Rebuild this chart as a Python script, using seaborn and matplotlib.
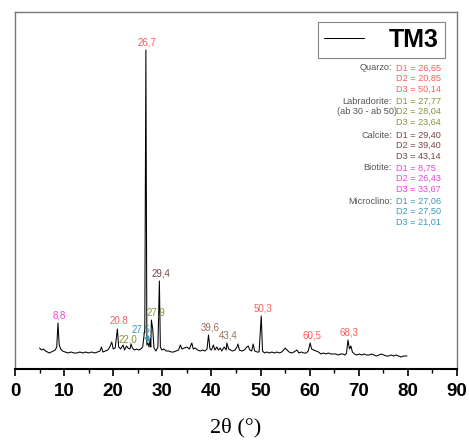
import numpy as np
import pandas as pd
import matplotlib
matplotlib.use("Agg")
import matplotlib.pyplot as plt
import matplotlib.ticker as mticker
import seaborn as sns

# ── Data ──────────────────────────────────────────────────────────────────────
two_theta = [
    5.0, 5.4, 5.8, 6.2, 6.6, 7.0, 7.4, 7.8, 8.2, 8.5, 8.75, 9.0, 9.3, 9.7,
    10.2, 10.8, 11.4, 12.0, 12.6, 13.2, 13.8, 14.4, 15.0, 15.6, 16.2, 16.8,
    17.3, 17.6, 17.9, 18.4, 18.9, 19.3, 19.7, 20.0, 20.4, 20.85, 21.1, 21.5,
    22.0, 22.3, 22.7, 23.0, 23.4, 23.64, 23.9, 24.3, 24.8, 25.2, 25.6, 26.0,
    26.43, 26.65, 26.85, 27.06, 27.3, 27.5, 27.65, 27.77, 28.04, 28.3, 28.7,
    29.1, 29.4, 29.6, 29.9, 30.3, 30.8, 31.3, 31.8, 32.3, 32.8, 33.3, 33.67,
    34.0, 34.5, 35.0, 35.5, 36.0, 36.3, 36.7, 37.2, 37.7, 38.2, 38.7, 39.1,
    39.4, 39.7, 40.0, 40.4, 40.7, 41.1, 41.4, 41.8, 42.1, 42.6, 43.0, 43.14,
    43.5, 43.9, 44.3, 44.8, 45.2, 45.4, 45.7, 46.2, 46.7, 47.2, 47.5, 47.8,
    48.2, 48.5, 48.8, 49.3, 49.7, 50.14, 50.4, 50.8, 51.3, 51.8, 52.3, 52.8,
    53.3, 53.8, 54.3, 54.7, 55.0, 55.4, 55.8, 56.3, 56.8, 57.4, 57.8, 58.3,
    58.8, 59.3, 59.7, 60.1, 60.4, 60.8, 61.3, 61.8, 62.3, 62.8, 63.3, 63.8,
    64.3, 64.8, 65.3, 65.8, 66.3, 66.8, 67.2, 67.5, 67.8, 68.1, 68.4, 68.7,
    69.1, 69.6, 70.1, 70.6, 71.1, 71.6, 72.1, 72.6, 73.1, 73.6, 74.1, 74.6,
    75.1, 75.6, 76.1, 76.6, 77.1, 77.6, 78.1, 78.6, 79.1, 79.8,
]
intensity = [
    21, 19, 20, 18, 17, 16, 17, 18, 19, 22, 46, 24, 20, 18,
    17, 16, 17, 16, 16, 17, 16, 17, 16, 17, 16, 17,
    18, 22, 17, 18, 19, 22, 27, 20, 21, 40, 22, 20,
    24, 19, 23, 21, 20, 25, 21, 19, 20, 19, 20, 22,
    40, 319, 24, 26, 22, 30, 22, 49, 40, 21, 18,
    22, 88, 22, 19, 20, 18, 18, 17, 17, 18, 19, 24,
    20, 21, 22, 20, 26, 20, 21, 19, 18, 19, 18, 20,
    34, 20, 19, 24, 19, 22, 19, 21, 18, 22, 19, 26,
    20, 19, 18, 19, 22, 25, 19, 18, 19, 22, 23, 19,
    18, 25, 18, 17, 17, 53, 18, 16, 17, 16, 17, 16,
    17, 16, 17, 19, 21, 19, 17, 16, 17, 19, 16, 17,
    16, 16, 18, 26, 20, 19, 18, 17, 15, 16, 15, 16,
    15, 15, 15, 14, 15, 15, 14, 16, 29, 20, 23, 17,
    15, 14, 15, 14, 15, 14, 14, 15, 14, 13, 14, 15,
    14, 13, 13, 14, 13, 14, 13, 12, 13, 13,
]

# peak labels: text, 2θ of the peak, height, colour key
peak_text = ["8,8", "20.8", "26,7", "27,9", "29,4", "39,6", "43,4",
             "50,3", "60,5", "68,3"]
peak_x = [8.75, 20.85, 26.65, 27.77, 29.40, 39.40, 43.14, 50.14, 60.1, 67.8]
peak_y = [46, 40, 319, 49, 88, 34, 26, 53, 26, 29]
peak_kind = ["biot", "quarz", "quarz", "labr", "calc", "calc2", "calc2",
             "quarz", "quarz", "quarz"]

# phase table (right hand side)
phases = ["Quarzo:", "Labradorite:", "Calcite:", "Biotite:", "Microclino:"]
phase_kind = ["quarz", "labr", "calc", "biot", "micro"]
phase_d = [
    ["26,65", "20,85", "50,14"],
    ["27,77", "28,04", "23,64"],
    ["29,40", "39,40", "43,14"],
    ["8,75", "26,43", "33,67"],
    ["27,06", "27,50", "21,01"],
]

COLORS = {
    "quarz": "#ff5a5a",
    "labr":  "#8f8f3a",
    "calc":  "#7a4646",
    "calc2": "#9a6e5a",
    "biot":  "#f040e0",
    "micro": "#3a9ab8",
}
GREY = "#555555"

# ── Style ──────────────────────────────────────────────────────────────────────
sns.set_style("white")
plt.rcParams.update({
    "font.family": ["Liberation Sans", "DejaVu Sans"],
    "text.color": "black",
    "axes.labelcolor": "black",
    "xtick.color": "black",
})

W, H = 469, 441
fig = plt.figure(figsize=(W / 100, H / 100), dpi=100)
ax = fig.add_axes([15 / W, (H - 369) / H, 442 / W, 357 / H])

df = pd.DataFrame({"two_theta": two_theta, "intensity": intensity})
sns.lineplot(data=df, x="two_theta", y="intensity", ax=ax,
             color="black", lw=0.75, label="TM3", estimator=None, sort=False)

ax.set_xlim(0, 90)
ax.set_ylim(0, 357)
ax.set_yticks([])
ax.xaxis.set_major_locator(mticker.MultipleLocator(10))
ax.xaxis.set_minor_locator(mticker.MultipleLocator(5))
ax.tick_params(axis="x", which="major", direction="out", length=5, width=1.2,
               bottom=True, pad=5, labelsize=13.5, colors="black")
ax.tick_params(axis="x", which="minor", direction="out", length=3, width=1.0,
               bottom=True, colors="black")
for lab in ax.get_xticklabels():
    lab.set_fontweight("bold")
ax.set_ylabel("")
ax.set_xlabel("2θ (°)", family=["Liberation Serif", "DejaVu Serif"],
              fontsize=16, labelpad=13, color="black")

for side in ["left", "top", "right"]:
    ax.spines[side].set_color("#777777")
    ax.spines[side].set_linewidth(1.0)
ax.spines["bottom"].set_color("black")
ax.spines["bottom"].set_linewidth(1.5)

# legend
leg = ax.legend(loc="upper right", bbox_to_anchor=(0.973, 0.972),
                frameon=True, fancybox=False, handlelength=1.6,
                handletextpad=1.0, borderpad=0.25, borderaxespad=0,
                prop={"size": 18, "weight": "bold"}, labelcolor="black")
leg.get_frame().set_edgecolor("#666666")
leg.get_frame().set_linewidth(0.8)

# peak labels
for txt, x, y, kind in zip(peak_text, peak_x, peak_y, peak_kind):
    dx = 3 if kind == "labr" else 1
    ax.annotate(txt, (x, y), xytext=(dx, 2), textcoords="offset points",
                ha="center", va="bottom", fontsize=7, color=COLORS[kind])

ax.annotate("22,0", (23.64, 25), xytext=(-2, 0), textcoords="offset points",
            ha="center", va="bottom", fontsize=7, color=COLORS["labr"])
ax.annotate("27,5", (27.5, 27), xytext=(25.7, 40), textcoords="data",
            ha="center", va="center", fontsize=7, color=COLORS["micro"],
            arrowprops=dict(arrowstyle="-|>", color=COLORS["micro"], lw=1.2,
                            mutation_scale=7, shrinkA=3, shrinkB=0))

# phase table
def to_axes(px_x, px_y):
    return (px_x - 15) / 442, (369 - px_y) / 357

group_top = [68, 101, 135, 168, 201]
for name, kind, ds, y0 in zip(phases, phase_kind, phase_d, group_top):
    for i, d in enumerate(ds):
        yy = y0 + i * 10.5
        xv, yv = to_axes(396, yy)
        ax.text(xv, yv, f"D{i + 1} = {d}", transform=ax.transAxes,
                ha="left", va="center", fontsize=6.6, color=COLORS[kind])
    xl, yl = to_axes(392, y0)
    ax.text(xl, yl, name, transform=ax.transAxes, ha="right", va="center",
            fontsize=6.6, color=GREY)
    if kind == "labr":
        xl, yl = to_axes(397, y0 + 10.5)
        ax.text(xl, yl, "(ab 30 - ab 50)", transform=ax.transAxes,
                ha="right", va="center", fontsize=6.6, color=GREY)

fig.savefig("out.png", dpi=100)
